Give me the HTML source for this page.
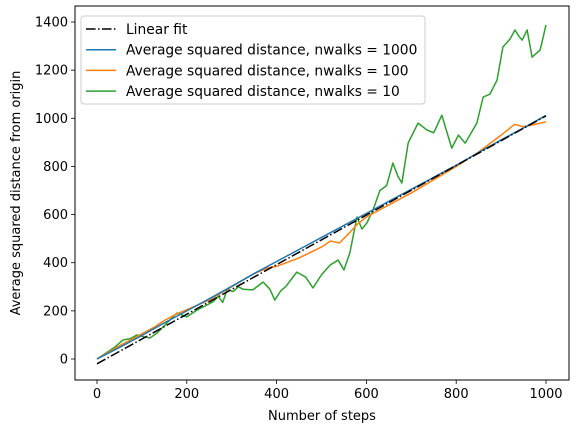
<!DOCTYPE html>
<html><head><meta charset="utf-8"><style>
body{margin:0;background:#fff;width:580px;height:432px;overflow:hidden}
svg{display:block;font-family:"DejaVu Sans","Liberation Sans",sans-serif}
</style></head><body>
<svg id="chart" width="580" height="432" xmlns="http://www.w3.org/2000/svg"></svg>
<script>
const xTicks=[0,200,400,600,800,1000];
const yTicks=[0,200,400,600,800,1000,1200,1400];
const blueSteps=[0,50,100,150,200,250,300,350,400,450,500,550,600,650,700,750,800,850,900,950,1000];
const blueVals=[0,48,98,150,200,250,302,355,405,455,505,555,605,655,705,755,805,858,910,960,1012];
const orangeSteps=[0,50,100,130,150,175,200,250,300,350,380,400,450,500,520,540,560,580,600,650,700,750,800,850,900,930,950,1000];
const orangeVals=[0,55,105,135,160,185,205,245,300,355,378,385,420,465,490,482,520,560,590,640,690,745,800,860,930,975,965,985];
const greenSteps=[0,20,40,58,75,89,105,118,135,156,178,200,220,236,258,270,280,290,303,315,325,347,370,385,396,410,420,445,465,481,500,519,537,550,563,579,590,601,615,630,645,659,670,679,693,715,735,750,768,790,805,820,846,860,875,891,904,920,931,940,947,958,969,987,1000];
const greenVals=[0,25,50,79,85,100,92,87,110,150,191,175,200,216,237,260,235,290,280,300,290,287,320,290,245,285,300,361,340,295,350,390,411,370,440,590,540,565,620,700,720,814,760,731,897,980,951,940,1013,876,930,897,980,1088,1100,1159,1296,1330,1367,1340,1325,1367,1254,1284,1388];
const fitStart=-20, fitEnd=1010;

const svg=document.getElementById('chart');
const NS='http://www.w3.org/2000/svg';
const L=75,R=569,T=6,B=380;
const X=v=>97+v*0.449;
const Y=v=>359-v*0.2407;
function mk(tag,attrs,parent){const e=document.createElementNS(NS,tag);for(const k in attrs)e.setAttribute(k,attrs[k]);(parent||svg).appendChild(e);return e;}

function line(steps,vals,color,name,extra){
  const p=mk('polyline',Object.assign({points:steps.map((s,i)=>X(s)+','+Y(vals[i])).join(' '),fill:'none',stroke:color,'stroke-width':1.5,'stroke-linejoin':'round'},extra||{}));
  
  
}
line(greenSteps,greenVals,'#2ca02c','series-nwalks-10');
line(orangeSteps,orangeVals,'#ff7f0e','series-nwalks-100');
line(blueSteps,blueVals,'#1f77b4','series-nwalks-1000');
line([0,1000],[fitStart,fitEnd],'#000','linear-fit-line',{'stroke-dasharray':'9.6,2.4,1.5,2.4'});

const fr=mk('rect',{x:L,y:T,width:R-L,height:B-T,fill:'none',stroke:'#000','stroke-width':1});



xTicks.forEach(v=>{
  mk('line',{x1:X(v),x2:X(v),y1:B,y2:B+4,stroke:'#000','stroke-width':0.8});
  const t=mk('text',{x:X(v),y:B+18,'text-anchor':'middle','font-size':13,fill:'#000'});
  t.textContent=v;
  
  
});
yTicks.forEach(v=>{
  mk('line',{x1:L-4,x2:L,y1:Y(v),y2:Y(v),stroke:'#000','stroke-width':0.8});
  const t=mk('text',{x:L-7,y:Y(v)+4.5,'text-anchor':'end','font-size':13,fill:'#000'});
  t.textContent=v;
  
  
});
const xt=mk('text',{x:322,y:420,'text-anchor':'middle','font-size':13});
xt.textContent='Number of steps';


const yt=mk('text',{x:0,y:0,'text-anchor':'middle','font-size':13,transform:'translate(20,193) rotate(-90)'});
yt.textContent='Average squared distance from origin';



const lg=mk('g',{});


mk('rect',{x:81,y:16,width:344,height:88,rx:3,fill:'#fff','fill-opacity':0.8,stroke:'#ccc','stroke-width':1},lg);
const entries=[['Linear fit','#000',true],['Average squared distance, nwalks = 1000','#1f77b4'],['Average squared distance, nwalks = 100','#ff7f0e'],['Average squared distance, nwalks = 10','#2ca02c']];
entries.forEach((e,i)=>{
  const y=29+i*20.7;
  const g=mk('g',{},lg);
  
  
  const a={x1:86,x2:116,y1:y,y2:y,stroke:e[1],'stroke-width':1.5};
  if(e[2])a['stroke-dasharray']='9.6,2.4,1.5,2.4';
  mk('line',a,g);
  const t=mk('text',{x:126,y:y+5,'font-size':13.8},g);
  t.textContent=e[0];
});
</script>
</body></html>
